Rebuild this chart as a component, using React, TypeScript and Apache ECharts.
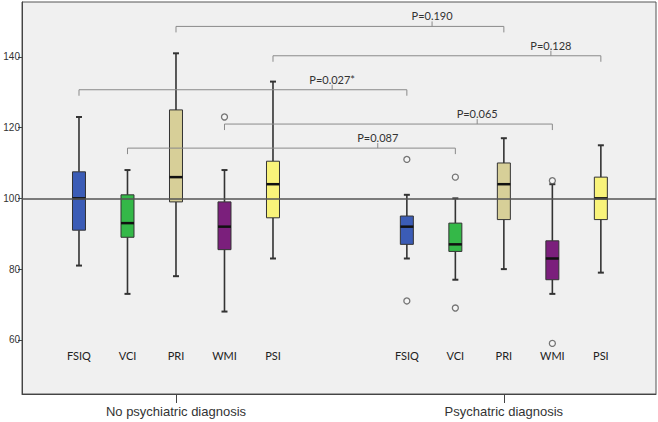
import React, { useEffect, useRef } from "react";
import * as echarts from "echarts";

// ---- data ----
const metrics = ["FSIQ", "VCI", "PRI", "WMI", "PSI"];
const groups = ["No psychiatric diagnosis", "Psychatric diagnosis"];
const groupCenters = [0, 6.76];
const metricOffsets = [-2, -1, 0, 1, 2];
const metricColors = ["#3b5cb6", "#34b848", "#d7cf98", "#7b1f7c", "#f9f37a"];

// [min, q1, median, q3, max]
const noDiagnosisBoxes = [
  [81, 91, 100, 107.5, 123],
  [73, 89, 93, 101, 108],
  [78, 99, 106, 125, 141],
  [68, 85.5, 92, 99, 108],
  [83, 94.5, 104, 110.5, 133],
];
const diagnosisBoxes = [
  [83, 87, 92, 95, 101],
  [77, 85, 87, 93, 100],
  [80, 94, 104, 110, 117],
  [73, 77, 83, 88, 104],
  [79, 94, 100, 106, 115],
];
// [metricIndex, value]
const noDiagnosisOutliers = [[3, 123]];
const diagnosisOutliers = [
  [0, 111],
  [0, 71],
  [1, 106],
  [1, 69],
  [3, 105],
  [3, 59],
];
// comparisons between groups for the same metric
const bracketMetric = [2, 4, 0, 3, 1];
const bracketLabels = ["P=0.190", "P=0.128", "P=0.027*", "P=0.065", "P=0.087"];
const bracketLevels = [148.6, 140.3, 130.7, 121.0, 114.2];
const bracketLabelPos = [5.28, 7.73, 3.22, 6.21, 4.16];
const yTicks = [60, 80, 100, 120, 140];
const referenceValue = 100;
const metricLabelLevel = 55.5;

const pos = (g: number, m: number) => groupCenters[g] + metricOffsets[m];

export default function App() {
  const ref = useRef<HTMLDivElement>(null);
  useEffect(() => {
    if (!ref.current) return;
    const chart = echarts.init(ref.current, undefined, { renderer: "svg" });

    const boxData: any[] = [];
    [noDiagnosisBoxes, diagnosisBoxes].forEach((arr, g) =>
      arr.forEach((b, m) => boxData.push([pos(g, m), ...b, m]))
    );
    const outlierData: any[] = [];
    [noDiagnosisOutliers, diagnosisOutliers].forEach((arr, g) =>
      arr.forEach(([m, v]) => outlierData.push([pos(g, m), v]))
    );
    const bracketData = bracketMetric.map((m, i) => [
      pos(0, m),
      pos(1, m),
      bracketLevels[i],
      bracketLabelPos[i],
      i,
    ]);
    const labelData: any[] = [];
    groups.forEach((_, g) =>
      metrics.forEach((_, m) => labelData.push([pos(g, m), metricLabelLevel, m]))
    );

    const dark = "#333";
    chart.setOption({
      animation: false,
      backgroundColor: "#ffffff",
      grid: {
        left: 22,
        right: 2,
        top: 2,
        bottom: 28,
        show: true,
        backgroundColor: "#f0f0f0",
        borderColor: "#555",
        borderWidth: 1,
      },
      xAxis: {
        type: "value",
        min: -3.175,
        max: 9.897,
        splitLine: { show: false },
        axisLine: { show: true, onZero: false, lineStyle: { color: "#444" } },
        axisTick: {
          show: true,
          length: 9,
          customValues: groupCenters,
          lineStyle: { color: "#444" },
        },
        axisLabel: {
          customValues: groupCenters,
          formatter: (v: number) => (v < 3 ? groups[0] : groups[1]),
          color: "#333",
          fontFamily: "Liberation Sans, Arial, sans-serif",
          fontSize: 13,
          margin: 11,
        },
      },
      yAxis: {
        type: "value",
        min: 44.7,
        max: 155.5,
        splitLine: { show: false },
        axisLine: { show: true, onZero: false, lineStyle: { color: "#444" } },
        axisTick: {
          show: true,
          length: 4,
          customValues: yTicks,
          lineStyle: { color: "#444" },
        },
        axisLabel: {
          customValues: yTicks,
          color: "#333",
          fontFamily: "Liberation Sans, Arial, sans-serif",
          fontSize: 10,
          margin: 2,
        },
      },
      series: [
        {
          type: "custom",
          name: "boxes",
          data: boxData,
          z: 2,
          renderItem: (params: any, api: any) => {
            const x = api.value(0);
            const lo = api.coord([x, api.value(1)]);
            const q1 = api.coord([x, api.value(2)]);
            const md = api.coord([x, api.value(3)]);
            const q3 = api.coord([x, api.value(4)]);
            const hi = api.coord([x, api.value(5)]);
            const color = metricColors[api.value(6)];
            const w = 13;
            const cap = 3;
            const ws = { stroke: dark, lineWidth: 1.6 };
            return {
              type: "group",
              children: [
                { type: "line", shape: { x1: lo[0], y1: lo[1], x2: q1[0], y2: q1[1] }, style: ws },
                { type: "line", shape: { x1: q3[0], y1: q3[1], x2: hi[0], y2: hi[1] }, style: ws },
                { type: "line", shape: { x1: lo[0] - cap, y1: lo[1], x2: lo[0] + cap, y2: lo[1] }, style: { stroke: dark, lineWidth: 2 } },
                { type: "line", shape: { x1: hi[0] - cap, y1: hi[1], x2: hi[0] + cap, y2: hi[1] }, style: { stroke: dark, lineWidth: 2 } },
                {
                  type: "rect",
                  shape: { x: q3[0] - w / 2, y: q3[1], width: w, height: q1[1] - q3[1] },
                  style: { fill: color, stroke: "#333", lineWidth: 1 },
                },
                {
                  type: "line",
                  shape: { x1: md[0] - w / 2, y1: md[1], x2: md[0] + w / 2, y2: md[1] },
                  style: { stroke: "#111", lineWidth: 2.5 },
                },
              ],
            };
          },
          markLine: {
            silent: true,
            symbol: "none",
            label: { show: false },
            lineStyle: { color: "#555", width: 1.5, type: "solid" },
            data: [{ yAxis: referenceValue }],
          },
        },
        {
          type: "scatter",
          name: "outliers",
          data: outlierData,
          symbol: "circle",
          symbolSize: 6,
          z: 3,
          itemStyle: { color: "#f6f6f6", borderColor: "#555", borderWidth: 1.3 },
        },
        {
          type: "custom",
          name: "brackets",
          data: bracketData,
          z: 4,
          renderItem: (params: any, api: any) => {
            const y = api.value(2);
            const a = api.coord([api.value(0), y]);
            const b = api.coord([api.value(1), y]);
            const c = api.coord([api.value(3), y]);
            const s = { stroke: "#8a8a8a", lineWidth: 1 };
            return {
              type: "group",
              children: [
                {
                  type: "polyline",
                  shape: { points: [[a[0], a[1] + 6], [a[0], a[1]], [b[0], b[1]], [b[0], b[1] + 6]] },
                  style: { ...s, fill: null },
                },
                { type: "line", shape: { x1: c[0], y1: c[1], x2: c[0], y2: c[1] - 5 }, style: s },
                {
                  type: "text",
                  x: c[0],
                  y: c[1] - 5,
                  style: {
                    text: bracketLabels[api.value(4)],
                    fill: "#333",
                    font: '11px Lato, "Open Sans", sans-serif',
                    align: "center",
                    verticalAlign: "bottom",
                  },
                },
              ],
            };
          },
        },
        {
          type: "custom",
          name: "metricLabels",
          data: labelData,
          z: 4,
          renderItem: (params: any, api: any) => {
            const p = api.coord([api.value(0), api.value(1)]);
            return {
              type: "text",
              x: p[0],
              y: p[1],
              style: {
                text: metrics[api.value(2)],
                fill: "#222",
                font: '11px Lato, "Open Sans", sans-serif',
                align: "center",
                verticalAlign: "middle",
              },
            };
          },
        },
      ],
    });
    return () => chart.dispose();
  }, []);
  return (
    <div
      ref={ref}
      style={{ position: "fixed", left: 0, top: 0, width: 658, height: 422 }}
    />
  );
}
